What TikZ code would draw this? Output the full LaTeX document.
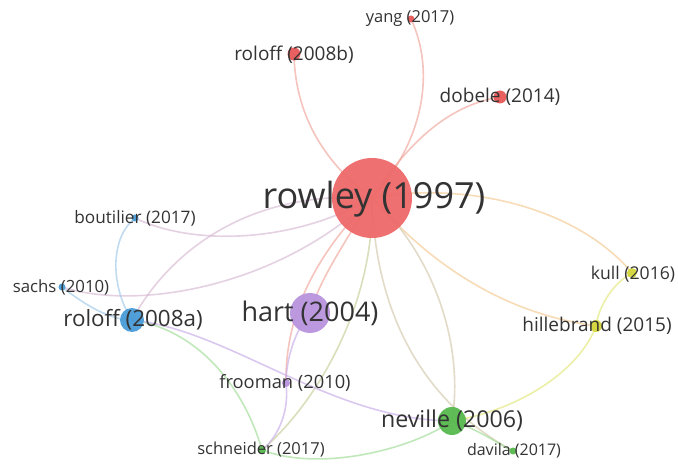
\documentclass[tikz,border=0pt]{standalone}
\usepackage{fontspec}
\setmainfont{Open Sans}
\begin{document}
\begin{tikzpicture}[x=1pt,y=-1pt,
  edge/.style={line width=1.6pt, opacity=0.65},
  dot/.style={circle, inner sep=0pt, draw=none, opacity=0.95},
  lab/.style={text=black!80, inner sep=0pt},
  fs/.style={lab, font=\fontsize{#1}{#1}\selectfont}]
\definecolor{nred}{RGB}{232,88,88}
\definecolor{nredl}{RGB}{238,105,105}
\definecolor{nblue}{RGB}{72,155,215}
\definecolor{npurp}{RGB}{185,148,222}
\definecolor{ngreen}{RGB}{88,185,78}
\definecolor{nyel}{RGB}{212,214,58}
\definecolor{ered}{RGB}{240,165,155}
\definecolor{eorange}{RGB}{245,200,145}
\definecolor{eblue}{RGB}{160,200,235}
\definecolor{epurp}{RGB}{200,172,232}
\definecolor{egreen}{RGB}{160,220,150}
\definecolor{eyel}{RGB}{226,232,120}
\definecolor{elav}{RGB}{215,185,210}
\definecolor{eolive}{RGB}{200,205,150}
\definecolor{etan}{RGB}{210,200,170}
\useasboundingbox (0,0) rectangle (678,465);
\fill[white] (0,0) rectangle (678,465);
% node centres
\coordinate (rw) at (372,198);
\coordinate (rb) at (294,54);
\coordinate (yg) at (411,19);
\coordinate (db) at (500,97);
\coordinate (bt) at (135,218);
\coordinate (sc) at (62,287);
\coordinate (ra) at (132,320);
\coordinate (ht) at (310,313);
\coordinate (fr) at (286,383);
\coordinate (nv) at (452,421);
\coordinate (sn) at (262,450);
\coordinate (dv) at (513,451);
\coordinate (kl) at (632,273);
\coordinate (hb) at (596,326);
% edges
\draw[edge, ered] (rb) .. controls (295,110) and (320,160) .. (rw);
\draw[edge, ered] (yg) .. controls (435,70) and (425,140) .. (rw);
\draw[edge, ered] (db) .. controls (450,105) and (410,140) .. (rw);
\draw[edge, eorange] (rw) .. controls (470,180) and (580,210) .. (kl);
\draw[edge, eorange] (rw) .. controls (410,240) and (480,310) .. (hb);
\draw[edge, etan] (rw) .. controls (430,250) and (465,340) .. (nv);
\draw[edge, etan] (rw) .. controls (375,310) and (420,400) .. (dv);
\draw[edge, eolive] (rw) .. controls (375,300) and (320,400) .. (sn);
\draw[edge, ered] (rw) .. controls (340,250) and (320,280) .. (ht);
\draw[edge, ered] (rw) .. controls (320,250) and (285,310) .. (fr);
\draw[edge, elav] (ra) .. controls (170,250) and (250,190) .. (rw);
\draw[edge, elav] (bt) .. controls (190,245) and (290,245) .. (rw);
\draw[edge, elav] (sc) .. controls (140,312) and (280,285) .. (rw);
\draw[edge, eblue] (bt) .. controls (108,240) and (112,290) .. (ra);
\draw[edge, eblue] (sc) .. controls (85,305) and (110,320) .. (ra);
\draw[edge, egreen] (ra) .. controls (200,330) and (245,390) .. (sn);
\draw[edge, epurp] (ra) .. controls (230,330) and (330,420) .. (nv);
\draw[edge, epurp] (ht) .. controls (295,330) and (286,360) .. (fr);
\draw[edge, epurp] (fr) .. controls (290,415) and (275,440) .. (sn);
\draw[edge, egreen] (sn) .. controls (320,472) and (410,450) .. (nv);
\draw[edge, egreen] (nv) .. controls (480,430) and (500,445) .. (dv);
\draw[edge, eyel] (hb) .. controls (580,370) and (520,410) .. (nv);
\draw[edge, eyel] (kl) .. controls (610,285) and (598,310) .. (hb);
% circles
\node[dot, fill=nredl, minimum size=80pt] (crw) at (rw) {};
\node[dot, fill=nred, minimum size=13pt] (crb) at (rb) {};
\node[dot, fill=nred, minimum size=7pt] (cyg) at (yg) {};
\node[dot, fill=nred, minimum size=13pt] (cdb) at (db) {};
\node[dot, fill=nblue, minimum size=7pt] (cbt) at (bt) {};
\node[dot, fill=nblue, minimum size=7pt] (csc) at (sc) {};
\node[dot, fill=nblue, minimum size=24pt] (cra) at (ra) {};
\node[dot, fill=npurp, minimum size=40pt] (cht) at (ht) {};
\node[dot, fill=npurp, minimum size=8pt] (cfr) at (fr) {};
\node[dot, fill=ngreen, minimum size=28pt] (cnv) at (nv) {};
\node[dot, fill=ngreen, minimum size=8pt] (csn) at (sn) {};
\node[dot, fill=ngreen, minimum size=7pt] (cdv) at (dv) {};
\node[dot, fill=nyel, minimum size=10pt] (ckl) at (kl) {};
\node[dot, fill=nyel, minimum size=12pt] (chb) at (hb) {};
% labels
\node[fs=36] (lrw) at (374,199) {rowley (1997)};
\node[fs=19] (lrb) at (294,55) {roloff (2008b)};
\node[fs=16.5] (lyg) at (410,19) {yang (2017)};
\node[fs=19] (ldb) at (500,97) {dobele (2014)};
\node[fs=17.2] (lbt) at (135,218) {boutilier (2017)};
\node[fs=16.8] (lsc) at (61,287) {sachs (2010)};
\node[fs=22.4] (lra) at (133,320) {roloff (2008a)};
\node[fs=27] (lht) at (310,313) {hart (2004)};
\node[fs=18.3] (lfr) at (285,383) {frooman (2010)};
\node[fs=23.2] (lnv) at (452,421) {neville (2006)};
\node[fs=16.5] (lsn) at (261,450) {schneider (2017)};
\node[fs=16] (ldv) at (514,451) {davila (2017)};
\node[fs=17.6] (lkl) at (633,274) {kull (2016)};
\node[fs=19] (lhb) at (597,326) {hillebrand (2015)};
\end{tikzpicture}
\end{document}
